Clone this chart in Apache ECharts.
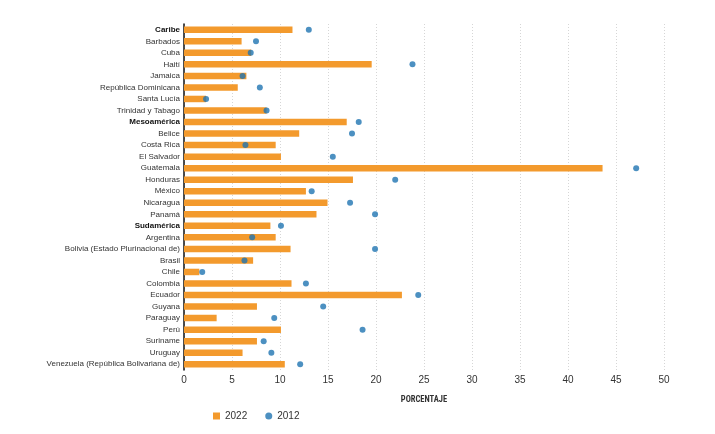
<!DOCTYPE html>
<html>
<head>
<meta charset="utf-8">
<script src="https://cdn.jsdelivr.net/npm/echarts@6/dist/echarts.min.js"></script>
<style>
html,body{margin:0;padding:0;background:#fff;}
#c{width:715px;height:434px;}
</style>
</head>
<body>
<div id="c"></div>
<script>
var categories = ["Caribe","Barbados","Cuba","Haití","Jamaica","República Dominicana","Santa Lucía","Trinidad y Tabago","Mesoamérica","Belice","Costa Rica","El Salvador","Guatemala","Honduras","México","Nicaragua","Panamá","Sudamérica","Argentina","Bolivia (Estado Plurinacional de)","Brasil","Chile","Colombia","Ecuador","Guyana","Paraguay","Perú","Suriname","Uruguay","Venezuela (República Bolivariana de)"];
var boldCategories = ["Caribe","Mesoamérica","Sudamérica"];
var values2022 = [11.3,6.0,7.0,19.55,6.5,5.6,2.3,8.6,16.95,12.0,9.55,10.1,43.6,17.6,12.7,14.95,13.8,9.0,9.55,11.1,7.2,1.6,11.2,22.7,7.6,3.4,10.1,7.6,6.1,10.5];
var values2012 = [13.0,7.5,6.95,23.8,6.1,7.9,2.3,8.6,18.2,17.5,6.4,15.5,47.1,22.0,13.3,17.3,19.9,10.1,7.1,19.9,6.3,1.9,12.7,24.4,14.5,9.4,18.6,8.3,9.1,12.1];
var xTicks = [0,5,10,15,20,25,30,35,40,45,50];

var chart = echarts.init(document.getElementById('c'));
chart.setOption({
  animation:false,
  textStyle:{fontFamily:'Liberation Sans, Arial, sans-serif'},
  grid:{left:184,right:51,top:24,bottom:64,containLabel:false},
  legend:{
    left:208,top:406,itemGap:18,itemWidth:7,itemHeight:7,
    textStyle:{fontSize:10,color:'#333'},
    data:[{name:'2022',icon:'rect'},{name:'2012',icon:'circle'}]
  },
  xAxis:{
    type:'value',min:xTicks[0],max:xTicks[xTicks.length-1],interval:5,
    name:'PORCENTAJE',nameLocation:'middle',nameGap:25,
    nameTextStyle:{fontSize:8.5,fontWeight:'bold',color:'#333',fontFamily:'Liberation Sans Narrow, Roboto Condensed, Liberation Sans, sans-serif'},
    axisLine:{show:false},axisTick:{show:false},
    axisLabel:{fontSize:10,color:'#333',margin:5},
    splitLine:{show:true,lineStyle:{type:[1,2],color:'#d6d6d6',width:1}}
  },
  yAxis:{
    type:'category',data:categories,inverse:true,
    axisLine:{show:true,lineStyle:{color:'#111',width:1.5}},
    axisTick:{show:false},
    axisLabel:{
      fontSize:8,color:'#333',margin:4,interval:0,
      formatter:function(v){return boldCategories.indexOf(v)>=0?'{b|'+v+'}':v;},
      rich:{b:{fontWeight:'bold',fontSize:8,color:'#111'}}
    }
  },
  series:[
    {name:'2022',type:'bar',data:values2022,barWidth:6.5,itemStyle:{color:'#F39A2D'},z:2},
    {name:'2012',type:'scatter',data:values2012,symbol:'circle',symbolSize:6,itemStyle:{color:'#1F74B2'},z:3}
  ]
});
</script>
</body>
</html>
